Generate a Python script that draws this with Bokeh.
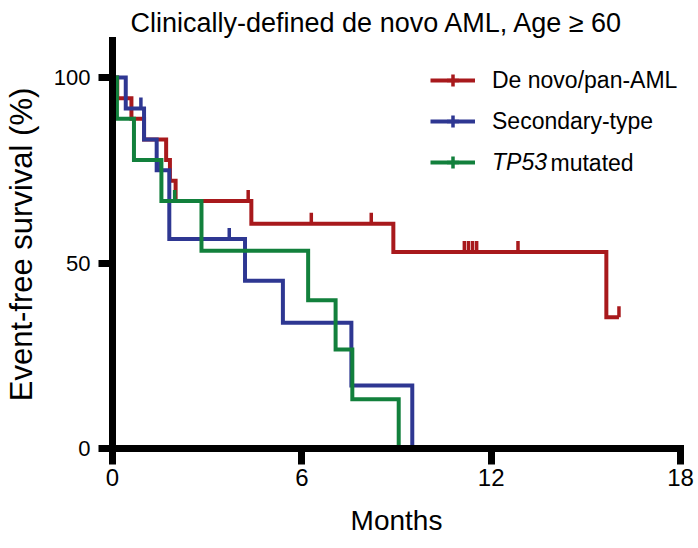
import numpy as np
from bokeh.plotting import figure
from bokeh.models import Legend, LegendItem, Label, Range1d
from bokeh.embed import file_html
from bokeh.resources import INLINE

title_text = "Clinically-defined de novo AML, Age \u2265 60"
x_label = "Months"
y_label = "Event-free survival (%)"
x_ticks = [0, 6, 12, 18]
y_ticks = [0, 50, 100]

series_names = ["De novo/pan-AML", "Secondary-type", "TP53"]

# Kaplan-Meier steps (time in months, survival %)
red_t = [0, 0.15, 0.6, 1.0, 1.7, 1.82, 2.0, 4.4, 8.9, 15.65, 16.05]
red_s = [100, 94.4, 88.9, 83.3, 77.8, 72.2, 66.7, 60.6, 53.0, 35.4, 35.4]
red_ct = [4.3, 6.3, 8.2, 11.15, 11.28, 11.41, 11.54, 12.85, 16.05]
red_cs = [66.7, 60.6, 60.6, 53.0, 53.0, 53.0, 53.0, 53.0, 35.4]

blue_t = [0, 0.42, 1.0, 1.4, 1.8, 4.2, 5.4, 7.57, 9.5]
blue_s = [100, 91.7, 83.3, 75.0, 56.5, 45.2, 33.9, 17.0, 0]
blue_ct = [0.9, 1.5, 3.7]
blue_cs = [91.7, 75.0, 56.5]

green_t = [0, 0.14, 0.68, 1.55, 2.82, 6.2, 7.07, 7.6, 9.07]
green_s = [100, 88.9, 77.8, 66.7, 53.3, 40.0, 26.7, 13.3, 0]
green_ct = [1.97]
green_cs = [66.7]

RED = "#A8191C"
BLUE = "#2E3792"
GREEN = "#12803C"
FONT = "Liberation Sans"

p = figure(width=698, height=548, output_backend="svg", toolbar_location=None,
           x_range=Range1d(0, 18), y_range=Range1d(0, 110),
           min_border_left=107, min_border_right=18, min_border_top=40,
           min_border_bottom=100)
p.background_fill_color = "white"
p.border_fill_color = "white"
p.outline_line_color = None
p.xgrid.visible = False
p.ygrid.visible = False

p.title.text = title_text
p.title.text_font = FONT
p.title.text_font_size = "27px"
p.title.text_font_style = "normal"
p.title.text_color = "black"
p.title.align = "left"
p.title.offset = 18
p.title.standoff = 6

p.xaxis.ticker = x_ticks
p.yaxis.ticker = y_ticks
for ax in (p.xaxis, p.yaxis):
    ax.axis_line_width = 7
    ax.axis_line_color = "black"
    ax.axis_line_cap = "square"
    ax.major_tick_line_width = 7
    ax.major_tick_line_color = "black"
    ax.major_tick_in = 0
    ax.minor_tick_line_color = None
    ax.major_label_text_font = FONT
    ax.major_label_text_color = "black"
    ax.axis_label_text_font = FONT
    ax.axis_label_text_font_style = "normal"
    ax.axis_label_text_color = "black"
p.xaxis.major_tick_out = 16
p.yaxis.major_tick_out = 14
p.xaxis.major_label_text_font_size = "24px"
p.yaxis.major_label_text_font_size = "22px"
p.xaxis.major_label_standoff = 4
p.yaxis.major_label_standoff = 8
p.xaxis.axis_label = x_label
p.yaxis.axis_label = y_label
p.xaxis.axis_label_text_font_size = "28px"
p.yaxis.axis_label_text_font_size = "31px"
p.xaxis.axis_label_standoff = 16
p.yaxis.axis_label_standoff = 12

items = []
for name, t, s, ct, cs, col in [
    (series_names[0], red_t, red_s, red_ct, red_cs, RED),
    (series_names[1], blue_t, blue_s, blue_ct, blue_cs, BLUE),
    (series_names[2], green_t, green_s, green_ct, green_cs, GREEN),
]:
    line = p.step(t, s, mode="after", line_color=col, line_width=4, line_join="miter")
    p.ray(x=ct, y=cs, length=11, angle=np.pi / 2, length_units="screen",
          line_color=col, line_width=3.5)
    leg_tick = p.scatter(x=[np.nan], y=[np.nan], marker="cross", size=13,
                         line_color=col, line_width=3.5)
    items.append(LegendItem(label=name, renderers=[line, leg_tick]))

common = dict(glyph_width=45, glyph_height=30, label_height=30, spacing=11,
              padding=0, margin=0, label_standoff=17, border_line_color=None,
              background_fill_alpha=0, label_text_font=FONT,
              label_text_font_size="23px", label_text_color="black")
leg1 = Legend(items=items[:2], location=(318, 312), **common)
leg2 = Legend(items=items[2:], location=(318, 271), label_text_font_style="italic", **common)
p.add_layout(leg1)
p.add_layout(leg2)
p.add_layout(Label(x=438, y=286, x_units="screen", y_units="screen", text="mutated",
                   text_font=FONT, text_font_size="23px", text_baseline="middle",
                   text_color="black"))

open("out.html", "w").write(file_html(p, INLINE))
